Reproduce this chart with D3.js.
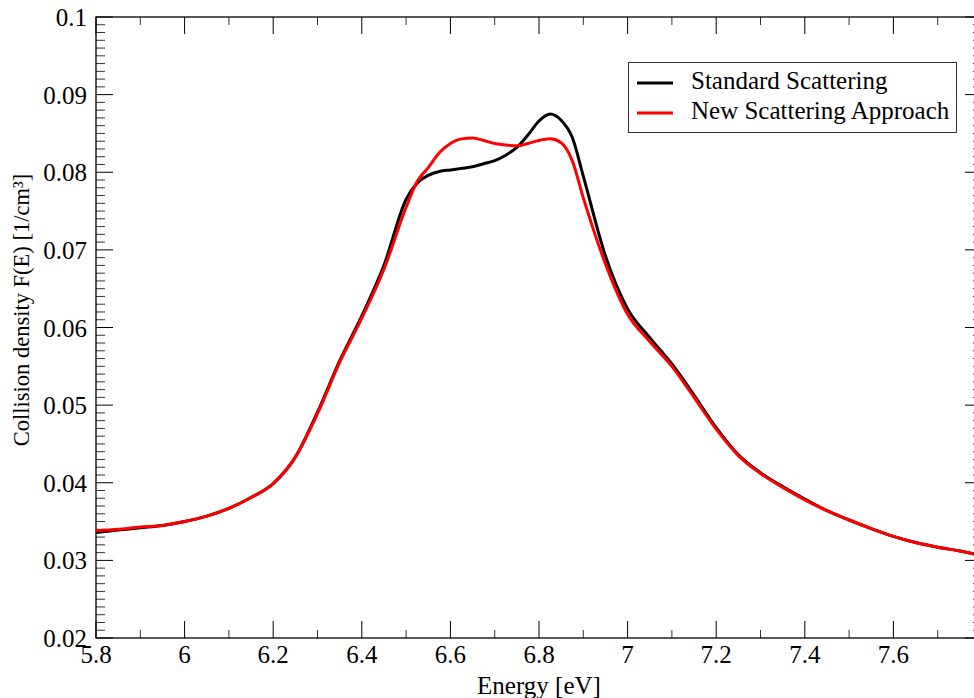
<!DOCTYPE html>
<html>
<head>
<meta charset="utf-8">
<script src="https://cdn.jsdelivr.net/npm/d3@7"></script>
<style>
	body { margin: 0; background: #fff; }
	svg { display: block; font-family: "Liberation Serif", "DejaVu Serif", serif; }
</style>
</head>
<body>
<div id="chart"></div>
<script>
// values
var energy = [5.8, 5.85, 5.9, 5.95, 6.0, 6.05, 6.1, 6.15, 6.2, 6.25, 6.3, 6.35, 6.4, 6.45, 6.5, 6.525, 6.55, 6.575, 6.6, 6.625, 6.65, 6.675, 6.7, 6.725, 6.75, 6.775, 6.8, 6.825, 6.85, 6.875, 6.9, 6.95, 7.0, 7.05, 7.1, 7.15, 7.2, 7.25, 7.3, 7.35, 7.4, 7.45, 7.5, 7.55, 7.6, 7.65, 7.7, 7.75, 7.8];

var standardScattering = [0.0336, 0.0339, 0.0342, 0.0345, 0.0350, 0.0357, 0.0367, 0.0381, 0.0399, 0.0433, 0.0491, 0.0557, 0.0615, 0.0680, 0.0765, 0.0786, 0.0796, 0.0801, 0.0803, 0.0805, 0.0807, 0.0811, 0.0815, 0.0822, 0.0832, 0.0848, 0.0866, 0.0875, 0.0867, 0.0845, 0.0795, 0.0692, 0.0624, 0.0587, 0.0553, 0.0513, 0.0471, 0.0436, 0.0413, 0.0395, 0.0379, 0.0364, 0.0352, 0.0341, 0.0331, 0.0323, 0.0317, 0.0312, 0.0306];

var newScattering = [0.0338, 0.0340, 0.0343, 0.0345, 0.0350, 0.0357, 0.0367, 0.0381, 0.0399, 0.0433, 0.0489, 0.0555, 0.0612, 0.0675, 0.0755, 0.0788, 0.0806, 0.0825, 0.0837, 0.0843, 0.0844, 0.0841, 0.0837, 0.0835, 0.0834, 0.0837, 0.0841, 0.0843, 0.0838, 0.0815, 0.0767, 0.0682, 0.0617, 0.0582, 0.0550, 0.0510, 0.0469, 0.0435, 0.0412, 0.0394, 0.0378, 0.0364, 0.0352, 0.0341, 0.0331, 0.0323, 0.0317, 0.0312, 0.0306];

var seriesNames = ["Standard Scattering", "New Scattering Approach"];
var seriesColors = ["#000000", "#ff0000"];

var xMajorTicks = [5.8, 6, 6.2, 6.4, 6.6, 6.8, 7, 7.2, 7.4, 7.6, 7.8];
// the 7.8 label falls outside the picture in the original, so it is left out
var xTickLabels = ["5.8", "6", "6.2", "6.4", "6.6", "6.8", "7", "7.2", "7.4", "7.6", ""];
var yMajorTicks = [0.02, 0.03, 0.04, 0.05, 0.06, 0.07, 0.08, 0.09, 0.1];
var yTickLabels = ["0.02", "0.03", "0.04", "0.05", "0.06", "0.07", "0.08", "0.09", "0.1"];

var W = 974, H = 698;
var margin = {left: 96, top: 17, right: -8, bottom: 60};
var plotW = W - margin.left - margin.right;
var plotH = H - margin.top - margin.bottom;

var x = d3.scaleLinear().domain([5.8, 7.8]).range([0, plotW]);
var y = d3.scaleLinear().domain([0.02, 0.1]).range([plotH, 0]);

var svg = d3.select("#chart").append("svg")
	.attr("width", W)
	.attr("height", H);

var chartArea = svg.append("g")
	.attr("transform", "translate(" + margin.left + "," + margin.top + ")");

// minor ticks
var xMinor = d3.range(0, 21).map(function(i) { return 5.8 + i * 0.1; });
var yMinor = d3.range(0, 81).map(function(i) { return 0.02 + i * 0.001; });

var MAJOR = 17, MINOR_X = 8, MINOR_Y = 9;

var ticks = chartArea.append("g").attr("class", "ticks");

xMinor.forEach(function(v, i)
{
	if (i % 2 == 0) return;
	ticks.append("line").attr("x1", x(v)).attr("x2", x(v)).attr("y1", plotH).attr("y2", plotH - MINOR_X)
		.style("stroke", "#333").style("stroke-width", 1);
	ticks.append("line").attr("x1", x(v)).attr("x2", x(v)).attr("y1", 0).attr("y2", MINOR_X)
		.style("stroke", "#333").style("stroke-width", 1);
});

yMinor.forEach(function(v, i)
{
	if (i % 10 == 0) return;
	ticks.append("line").attr("x1", 0).attr("x2", MINOR_Y).attr("y1", y(v)).attr("y2", y(v))
		.style("stroke", "#333").style("stroke-width", 1);
	ticks.append("line").attr("x1", plotW).attr("x2", plotW - MINOR_Y).attr("y1", y(v)).attr("y2", y(v))
		.style("stroke", "#333").style("stroke-width", 1);
});

xMajorTicks.forEach(function(v)
{
	ticks.append("line").attr("x1", x(v)).attr("x2", x(v)).attr("y1", plotH).attr("y2", plotH - MAJOR)
		.style("stroke", "#000").style("stroke-width", 1);
	ticks.append("line").attr("x1", x(v)).attr("x2", x(v)).attr("y1", 0).attr("y2", MAJOR)
		.style("stroke", "#000").style("stroke-width", 1);
});

yMajorTicks.forEach(function(v)
{
	ticks.append("line").attr("x1", 0).attr("x2", MAJOR).attr("y1", y(v)).attr("y2", y(v))
		.style("stroke", "#000").style("stroke-width", 1);
	ticks.append("line").attr("x1", plotW).attr("x2", plotW - MAJOR).attr("y1", y(v)).attr("y2", y(v))
		.style("stroke", "#000").style("stroke-width", 1);
});

// frame
chartArea.append("rect")
	.attr("x", 0).attr("y", 0)
	.attr("width", plotW).attr("height", plotH)
	.style("fill", "none")
	.style("stroke", "#000")
	.style("stroke-width", 1.3);

// tick labels
xMajorTicks.forEach(function(v, i)
{
	if (!xTickLabels[i]) return;
	chartArea.append("text")
		.text(xTickLabels[i])
		.attr("x", x(v))
		.attr("y", plotH + 25)
		.attr("text-anchor", "middle")
		.style("font-size", "25px");
});

yMajorTicks.forEach(function(v, i)
{
	chartArea.append("text")
		.text(yTickLabels[i])
		.attr("x", -9)
		.attr("y", y(v) + 9)
		.attr("text-anchor", "end")
		.style("font-size", "25px");
});

// axis titles
svg.append("text")
	.text("Energy [eV]")
	.attr("x", 539)
	.attr("y", 694)
	.attr("text-anchor", "middle")
	.style("font-size", "25px");

svg.append("text")
	.text("Collision density F(E) [1/cm\u00b3]")
	.attr("text-anchor", "middle")
	.attr("transform", "translate(29,310) rotate(-90)")
	.style("font-size", "22.5px");

// curves
var seriesData = [standardScattering, newScattering];
var line = d3.line()
	.x(function(d, i) { return x(energy[i]); })
	.y(function(d) { return y(d); })
	.curve(d3.curveMonotoneX);

seriesData.forEach(function(values, s)
{
	chartArea.append("path")
		.datum(values)
		.attr("d", line)
		.style("fill", "none")
		.style("stroke", seriesColors[s])
		.style("stroke-width", 3)
		.style("stroke-linejoin", "round");
});

// legend
var legend = svg.append("g").attr("class", "legend");
legend.append("rect")
	.attr("x", 628.5).attr("y", 62.5)
	.attr("width", 328).attr("height", 70)
	.style("fill", "#fff")
	.style("stroke", "#333")
	.style("stroke-width", 1);

seriesNames.forEach(function(name, s)
{
	legend.append("line")
		.attr("x1", 637).attr("x2", 673)
		.attr("y1", 83 + s * 30).attr("y2", 83 + s * 30)
		.style("stroke", seriesColors[s])
		.style("stroke-width", 3);
	legend.append("text")
		.text(name)
		.attr("x", 691)
		.attr("y", 89 + s * 30)
		.style("font-size", "25px");
});
</script>
</body>
</html>
